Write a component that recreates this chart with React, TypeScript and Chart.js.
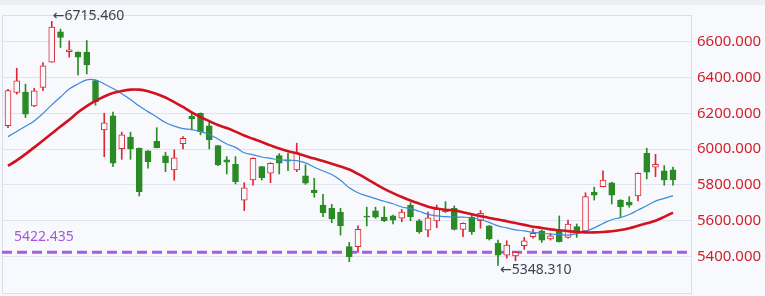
import React, { useEffect, useRef } from "react";
import { Chart, registerables } from "chart.js";

Chart.register(...registerables);

// ---- data ----
const OPEN = [
  6132, 6317, 6319, 6242, 6345, 6487, 6657, 6546, 6543, 6543,
  6384, 6108, 6186, 6003, 6068, 6005, 5990, 6044, 5962, 5884,
  6031, 6184, 6201, 6130, 6020, 5940, 5915, 5715, 5827, 5902,
  5865, 5964, 5940, 5884, 5850, 5771, 5687, 5669, 5647, 5454,
  5454, 5624, 5654, 5619, 5626, 5613, 5687, 5599, 5547, 5598,
  5655, 5669, 5551, 5619, 5599, 5570, 5473, 5407, 5402, 5459,
  5510, 5543, 5497, 5547, 5506, 5566, 5542, 5759, 5790, 5812,
  5715, 5703, 5738, 5977, 5899, 5878, 5884,
];
const HIGH = [
  6335, 6453, 6364, 6341, 6485, 6715.46, 6672, 6606, 6545, 6608,
  6388, 6201, 6207, 6095, 6095, 6007, 5992, 6120, 5983, 5996,
  6070, 6201, 6203, 6151, 6021, 5958, 5958, 5812, 5952, 5904,
  5924, 5975, 5977, 6033, 5912, 5837, 5747, 5691, 5669, 5478,
  5571, 5675, 5675, 5678, 5631, 5663, 5700, 5607, 5647, 5687,
  5706, 5682, 5588, 5631, 5656, 5572, 5491, 5487, 5425, 5506,
  5553, 5547, 5529, 5626, 5603, 5581, 5756, 5787, 5878, 5815,
  5717, 5734, 5867, 6005, 5971, 5908, 5899,
];
const LOW = [
  6120, 6308, 6177, 6238, 6328, 6486, 6569, 6515, 6416, 6421,
  6246, 5958, 5902, 5943, 5943, 5738, 5893, 6007, 5874, 5826,
  6001, 6108, 6080, 6001, 5908, 5861, 5805, 5656, 5798, 5827,
  5812, 5861, 5880, 5874, 5803, 5731, 5622, 5588, 5519, 5370,
  5422, 5570, 5613, 5594, 5581, 5594, 5599, 5529, 5510, 5560,
  5645, 5547, 5510, 5523, 5557, 5491, 5348.31, 5389, 5375, 5439,
  5501, 5478, 5491, 5480, 5501, 5506, 5538, 5715, 5788, 5693,
  5622, 5675, 5710, 5833, 5846, 5798, 5798,
];
const CLOSE = [
  6328, 6382, 6196, 6326, 6466, 6683, 6625, 6556, 6515, 6472,
  6266, 6148, 5921, 6080, 6001, 5762, 5930, 6008, 5924, 5952,
  6061, 6169, 6098, 6052, 5912, 5927, 5818, 5784, 5949, 5840,
  5921, 5921, 5932, 5979, 5809, 5756, 5644, 5609, 5571, 5398,
  5551, 5619, 5619, 5599, 5603, 5647, 5622, 5538, 5616, 5665,
  5650, 5551, 5585, 5538, 5641, 5497, 5407, 5463, 5422, 5487,
  5529, 5491, 5514, 5482, 5581, 5529, 5734, 5742, 5827, 5743,
  5678, 5687, 5865, 5871, 5915, 5827, 5827,
];
const MA_FAST = [
  6070, 6099, 6128, 6158, 6200, 6248, 6292, 6337, 6365, 6388,
  6387, 6365, 6339, 6310, 6278, 6241, 6210, 6180, 6149, 6129,
  6115, 6109, 6098, 6082, 6057, 6029, 6010, 5980, 5968, 5956,
  5948, 5940, 5938, 5936, 5923, 5899, 5878, 5858, 5826, 5784,
  5756, 5738, 5723, 5708, 5694, 5676, 5667, 5652, 5635, 5626,
  5622, 5620, 5619, 5616, 5606, 5590, 5570, 5559, 5548, 5542,
  5534, 5529, 5525, 5522, 5519, 5526, 5539, 5559, 5584, 5605,
  5617, 5634, 5659, 5683, 5709, 5724, 5740,
];
const MA_SLOW = [
  5906, 5937, 5972, 6010, 6048, 6087, 6127, 6164, 6206, 6241,
  6270, 6295, 6314, 6326, 6333, 6333, 6324, 6309, 6289, 6263,
  6236, 6206, 6180, 6157, 6135, 6118, 6098, 6076, 6058, 6040,
  6021, 6003, 5988, 5977, 5962, 5947, 5933, 5918, 5903, 5886,
  5861, 5834, 5805, 5778, 5754, 5732, 5712, 5695, 5678, 5668,
  5661, 5657, 5647, 5635, 5625, 5615, 5606, 5596, 5586, 5576,
  5566, 5559, 5551, 5546, 5541, 5537, 5534, 5534, 5536, 5540,
  5547, 5557, 5571, 5585, 5599, 5621, 5645,
];
const Y_TICKS = [5400, 5600, 5800, 6000, 6200, 6400, 6600];
const REF_LEVEL = 5422.435;

const Y_MIN = 5189;
const Y_MAX = 6751;
const X_MIN = -0.686;
const X_MAX = 78.171;

const UP = "#dc2833";
const DOWN = "#2a8a26";
const BG = "#f7f9fc";
const FONT = "'Noto Sans', 'DejaVu Sans', sans-serif";

export default function App() {
  const ref = useRef<HTMLCanvasElement | null>(null);

  useEffect(() => {
    if (!ref.current) return;
    const isUp = (i: number) => CLOSE[i] >= OPEN[i];
    const colorOf = (i: number) => (isUp(i) ? UP : DOWN);

    let maxIdx = 0;
    let minIdx = 0;
    HIGH.forEach((h, i) => { if (h > HIGH[maxIdx]) maxIdx = i; });
    LOW.forEach((l, i) => { if (l < LOW[minIdx]) minIdx = i; });

    const bgPlugin = {
      id: "bg",
      beforeDraw(chart: any) {
        const { ctx, width, height } = chart;
        ctx.save();
        ctx.fillStyle = BG;
        ctx.fillRect(0, 0, width, height);
        ctx.fillStyle = "#eceff4";
        ctx.fillRect(0, 0, width, 5);
        ctx.restore();
      },
      beforeDatasetsDraw(chart: any) {
        const { ctx, chartArea } = chart;
        ctx.save();
        ctx.strokeStyle = "#d9dfea";
        ctx.lineWidth = 1;
        ctx.strokeRect(
          chartArea.left + 0.5,
          chartArea.top + 0.5,
          chartArea.right - chartArea.left - 1,
          chartArea.bottom - chartArea.top - 1
        );
        ctx.restore();
      },
    };

    const labelPlugin = {
      id: "labels",
      afterDatasetsDraw(chart: any) {
        const { ctx, chartArea } = chart;
        const xs = chart.scales.x;
        const ys = chart.scales.y;
        ctx.save();
        ctx.textBaseline = "middle";
        ctx.textAlign = "left";
        ctx.font = `14px ${FONT}`;
        ctx.fillStyle = "#a458d8";
        ctx.fillText(REF_LEVEL.toFixed(3), chartArea.left + 12, ys.getPixelForValue(REF_LEVEL) - 15);
        ctx.fillStyle = "#3b4451";
        ctx.fillText(
          "\u2190" + HIGH[maxIdx].toFixed(3),
          xs.getPixelForValue(maxIdx) + 1,
          ys.getPixelForValue(HIGH[maxIdx]) - 5
        );
        ctx.fillText(
          "\u2190" + LOW[minIdx].toFixed(3),
          xs.getPixelForValue(minIdx) + 2,
          ys.getPixelForValue(LOW[minIdx]) + 4
        );
        ctx.restore();
      },
    };

    const idx = OPEN.map((_, i) => i);

    const chart = new Chart(ref.current, {
      type: "line",
      data: {
        datasets: [
          {
            type: "line",
            data: [
              { x: X_MIN, y: REF_LEVEL },
              { x: X_MAX, y: REF_LEVEL },
            ],
            borderColor: "#a55ee2",
            borderWidth: 3,
            borderDash: [10, 5],
            pointRadius: 0,
            order: 10,
          },
          {
            type: "bar",
            data: idx.map((i) => ({ x: i, y: [LOW[i], HIGH[i]] })),
            backgroundColor: idx.map(colorOf),
            borderWidth: 0,
            barThickness: 1,
            grouped: false,
            order: 8,
          },
          {
            type: "bar",
            data: idx.map((i) => ({ x: i, y: [OPEN[i], CLOSE[i]] })),
            backgroundColor: idx.map((i) => (isUp(i) ? BG : DOWN)),
            borderColor: idx.map(colorOf),
            borderWidth: 1,
            borderSkipped: false,
            barThickness: 6,
            minBarLength: 1,
            grouped: false,
            order: 7,
          },
          {
            type: "line",
            data: idx.map((i) => ({ x: i, y: MA_FAST[i] })),
            borderColor: "#3f88dc",
            borderWidth: 1.2,
            pointRadius: 0,
            tension: 0.4,
            order: 3,
          },
          {
            type: "line",
            data: idx.map((i) => ({ x: i, y: MA_SLOW[i] })),
            borderColor: "#d3121f",
            borderWidth: 2.6,
            pointRadius: 0,
            tension: 0.4,
            order: 2,
          },
        ] as any,
      },
      options: {
        animation: false,
        responsive: false,
        maintainAspectRatio: false,
        layout: { padding: { left: 2, top: 15, right: 0, bottom: 2 } },
        plugins: { legend: { display: false }, tooltip: { enabled: false } },
        scales: {
          x: {
            type: "linear",
            display: false,
            offset: false,
            min: X_MIN,
            max: X_MAX,
          },
          y: {
            type: "linear",
            position: "right",
            min: Y_MIN,
            max: Y_MAX,
            beginAtZero: false,
            border: { display: false },
            grid: { color: "#dfe4ee", lineWidth: 1, drawTicks: false },
            afterBuildTicks: (s: any) => {
              s.ticks = Y_TICKS.map((v) => ({ value: v }));
            },
            afterFit: (s: any) => {
              s.width = 73;
              s.paddingTop = 0;
              s.paddingBottom = 0;
            },
            ticks: {
              color: "#d11f2b",
              padding: 5,
              font: { family: FONT, size: 15 },
              callback: (v: any) => Number(v).toFixed(3),
            },
          },
        },
      } as any,
      plugins: [bgPlugin, labelPlugin],
    });

    return () => chart.destroy();
  }, []);

  return (
    <div style={{ position: "fixed", left: 0, top: 0, width: 765, height: 296 }}>
      <canvas ref={ref} width={765} height={296} style={{ display: "block" }} />
    </div>
  );
}
